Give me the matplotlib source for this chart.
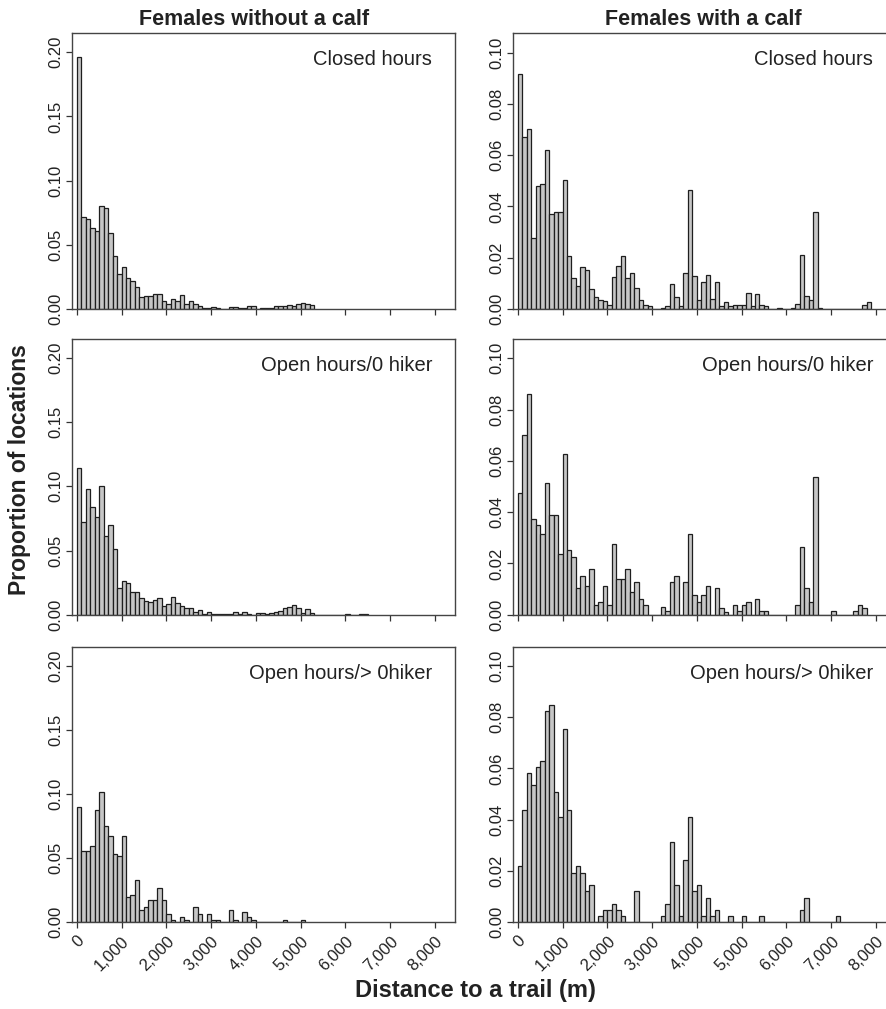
import matplotlib.pyplot as plt
import numpy as np

plt.rcParams['font.family'] = ['Liberation Sans', 'DejaVu Sans']

bin_width = 100  # m

# proportions of locations per 100 m bin, starting at 0 m
nocalf_closed = [0.196, 0.072, 0.070, 0.063, 0.061, 0.080, 0.079, 0.059, 0.041, 0.027,
                 0.033, 0.024, 0.022, 0.017, 0.009, 0.010, 0.010, 0.012, 0.012, 0.006,
                 0.004, 0.008, 0.006, 0.011, 0.004, 0.006, 0.004, 0.002, 0.0005, 0.001,
                 0.0015, 0.0008, 0.0, 0.0, 0.0015, 0.0012, 0.0008, 0.0008, 0.002, 0.002,
                 0.0, 0.0008, 0.0008, 0.0008, 0.0025, 0.0022, 0.0025, 0.0035, 0.0022, 0.0038,
                 0.0045, 0.0038, 0.003]
nocalf_open0 = [0.1143, 0.0725, 0.0977, 0.0836, 0.0764, 0.1003, 0.0613, 0.0699, 0.0509, 0.0205,
                0.0265, 0.0244, 0.0174, 0.0174, 0.0127, 0.0106, 0.0096, 0.0114, 0.0127, 0.0068,
                0.0086, 0.0135, 0.0088, 0.007, 0.0049, 0.0049, 0.002, 0.0039, 0.0008, 0.0018,
                0.0008, 0.0008, 0.0008, 0.0008, 0.0008, 0.0018, 0.0008, 0.0023, 0.0008, 0.0,
                0.001, 0.0015, 0.0008, 0.0013, 0.002, 0.003, 0.005, 0.0062, 0.0073, 0.0052,
                0.0013, 0.0042, 0.001, 0.0, 0.0, 0.0, 0.0, 0.0, 0.0, 0.0,
                0.0008, 0.0, 0.0, 0.0008, 0.0008]
nocalf_open1 = [0.0898, 0.0555, 0.0555, 0.0594, 0.0878, 0.1013, 0.0747, 0.0669, 0.0534, 0.0516,
                0.0669, 0.0195, 0.0211, 0.0328, 0.0096, 0.0117, 0.0174, 0.0174, 0.0271, 0.0174,
                0.0063, 0.0021, 0.0, 0.0039, 0.0021, 0.0, 0.0117, 0.0063, 0.0, 0.0063,
                0.0021, 0.0021, 0.0, 0.0, 0.0096, 0.0021, 0.0, 0.0081, 0.0039, 0.0021,
                0.0, 0.0, 0.0, 0.0, 0.0, 0.0, 0.0021, 0.0, 0.0, 0.0,
                0.0021]

calf_closed = [0.0916, 0.067, 0.0701, 0.0278, 0.048, 0.0486, 0.0619, 0.0369, 0.0377, 0.038,
               0.0502, 0.0205, 0.0119, 0.009, 0.0164, 0.0154, 0.0078, 0.0046, 0.0036, 0.0033,
               0.0017, 0.0125, 0.0168, 0.0208, 0.0119, 0.0142, 0.0082, 0.0036, 0.0017, 0.0013,
               0.0, 0.0, 0.0005, 0.0013, 0.0099, 0.0048, 0.0013, 0.0142, 0.0466, 0.013,
               0.0036, 0.0105, 0.0134, 0.004, 0.0105, 0.0012, 0.0027, 0.0012, 0.0017, 0.0017,
               0.0017, 0.0064, 0.0012, 0.006, 0.0017, 0.0012, 0.0, 0.0, 0.0003, 0.0,
               0.0, 0.0005, 0.002, 0.021, 0.0052, 0.0036, 0.038, 0.0003, 0.0, 0.0,
               0.0, 0.0, 0.0, 0.0, 0.0, 0.0, 0.0, 0.0017, 0.0027]
calf_open0 = [0.0475, 0.070, 0.0862, 0.0374, 0.0351, 0.0313, 0.0514, 0.039, 0.039, 0.0238,
              0.0625, 0.0251, 0.0226, 0.0103, 0.0151, 0.0113, 0.0177, 0.0038, 0.0051, 0.0113,
              0.0038, 0.0275, 0.0138, 0.0138, 0.0177, 0.0087, 0.0126, 0.0062, 0.0038, 0.0,
              0.0, 0.0, 0.0029, 0.0013, 0.0126, 0.0151, 0.0, 0.0126, 0.0314, 0.0075,
              0.005, 0.0075, 0.0113, 0.0, 0.0103, 0.0027, 0.0012, 0.0, 0.0038, 0.0013,
              0.0038, 0.005, 0.0, 0.0062, 0.0013, 0.0013, 0.0, 0.0, 0.0, 0.0,
              0.0, 0.0, 0.0038, 0.0264, 0.0103, 0.005, 0.0539, 0.0, 0.0, 0.0,
              0.0013, 0.0, 0.0, 0.0, 0.0, 0.0013, 0.0038, 0.0026]
calf_open1 = [0.0219, 0.0438, 0.0582, 0.0535, 0.0605, 0.0631, 0.0823, 0.0849, 0.051, 0.0412,
              0.0753, 0.0438, 0.0192, 0.0219, 0.0192, 0.0121, 0.0145, 0.0, 0.0025, 0.0048,
              0.0048, 0.0071, 0.0048, 0.0025, 0.0, 0.0, 0.0121, 0.0, 0.0, 0.0,
              0.0, 0.0, 0.0025, 0.0071, 0.0314, 0.0145, 0.0025, 0.0243, 0.0412, 0.0121,
              0.0145, 0.0025, 0.0096, 0.0025, 0.0048, 0.0, 0.0, 0.0025, 0.0, 0.0,
              0.0025, 0.0, 0.0, 0.0, 0.0025, 0.0, 0.0, 0.0, 0.0, 0.0,
              0.0, 0.0, 0.0, 0.0048, 0.0096, 0.0, 0.0, 0.0, 0.0, 0.0,
              0.0, 0.0025]

periods = ["Closed hours", "Open hours/0 hiker", "Open hours/> 0hiker"]
groups = ["Females without a calf", "Females with a calf"]
columns = [[nocalf_closed, nocalf_open0, nocalf_open1],
           [calf_closed, calf_open0, calf_open1]]
xticks = np.arange(0, 8001, 1000)
xticklabels = ["0", "1,000", "2,000", "3,000", "4,000", "5,000", "6,000", "7,000", "8,000"]

W, H = 886, 1009
fig = plt.figure(figsize=(W / 100, H / 100), dpi=100)

col_left = [72.3, 513.3]
ax_w = 382.7
row_bottom = [309, 614.7, 922.3]
ax_h = 275.6
ylims = [0.2147, 0.1075]
yticks = [np.arange(0, 0.201, 0.05), np.arange(0, 0.101, 0.02)]

for c in range(2):
    for r in range(3):
        ax = fig.add_axes([col_left[c] / W, (H - row_bottom[r]) / H, ax_w / W, ax_h / H])
        vals = columns[c][r]
        edges = np.arange(len(vals)) * bin_width
        ax.bar(edges, vals, width=bin_width, align='edge', color='#c6c6c6',
               edgecolor='#1e1e1e', linewidth=0.9)
        ax.set_xlim(-100, 8450)
        ax.set_ylim(0, ylims[c])
        ax.set_xticks(xticks)
        if r == 2:
            ax.set_xticklabels(xticklabels, rotation=45, ha='right', va='top',
                               rotation_mode='anchor', fontsize=12, color='#222222')
        else:
            ax.set_xticklabels([])
        ax.set_yticks(yticks[c])
        ax.set_yticklabels(["%.2f" % v for v in yticks[c]], rotation=90, va='center',
                           fontsize=12, color='#222222')
        ax.tick_params(direction='out', length=4, width=0.9, color='#333333', pad=4)
        ax.tick_params(axis='y', pad=2.5)
        for s in ax.spines.values():
            s.set_color('#444444')
            s.set_linewidth(1.0)
        ax.text(0.94, 0.904, periods[r], transform=ax.transAxes, ha='right', va='center',
                fontsize=14.5, color='#222222')

fig.text(254 / W, 1 - 25 / H, groups[0], ha='center', va='baseline', fontsize=15.5,
         fontweight='bold', color='#222222')
fig.text(703 / W, 1 - 25 / H, groups[1], ha='center', va='baseline', fontsize=15.5,
         fontweight='bold', color='#222222')
fig.text(20 / W, 1 - 470 / H, "Proportion of locations", rotation=90, ha='center',
         va='center', fontsize=16.5, fontweight='bold', color='#222222')
fig.text(475 / W, 1 - 990 / H, "Distance to a trail (m)", ha='center', va='center',
         fontsize=17, fontweight='bold', color='#222222')

fig.savefig("out.png", dpi=100)
